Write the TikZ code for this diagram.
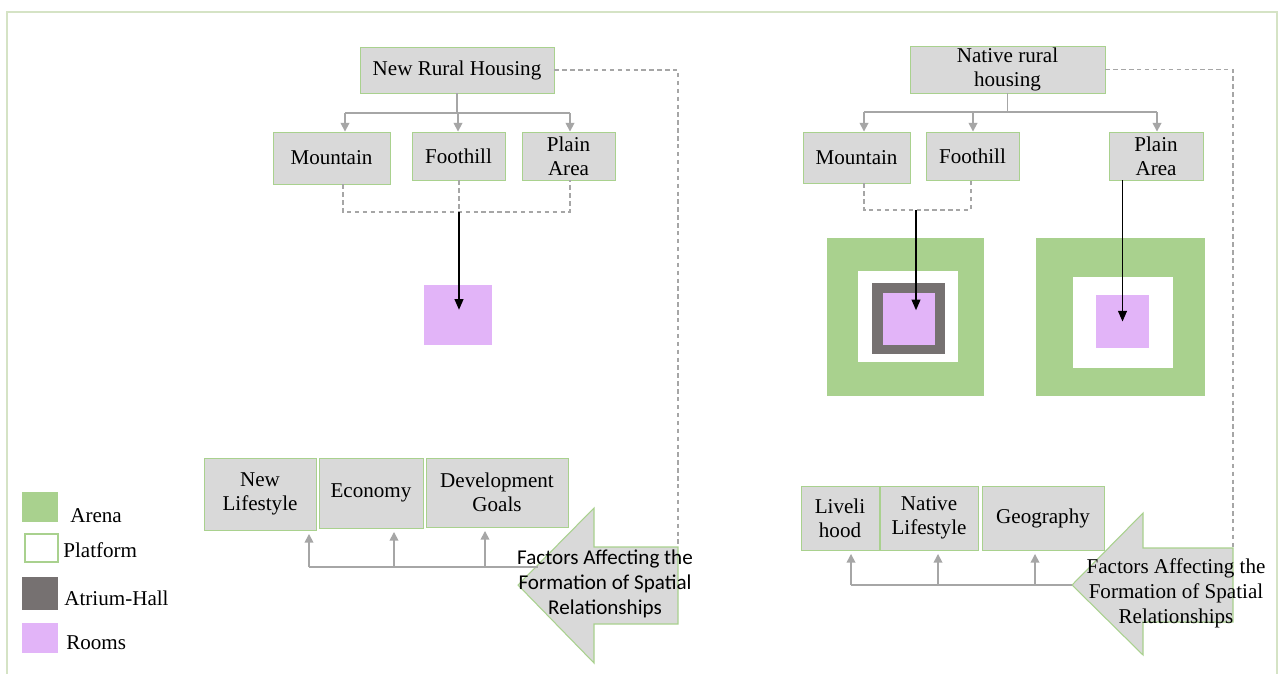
\documentclass[tikz,border=0pt]{standalone}
\usepackage{fontspec}
\setmainfont{Liberation Serif}
\newfontfamily\calib{Carlito}
\usetikzlibrary{arrows.meta}
\newdimen\pxu \pxu=0.02cm
\definecolor{boxfill}{HTML}{D9D9D9}
\definecolor{boxline}{HTML}{A9D18E}
\definecolor{arena}{HTML}{A9D18E}
\definecolor{rooms}{HTML}{E2B4F8}
\definecolor{atrium}{HTML}{767171}
\definecolor{connc}{HTML}{A6A6A6}
\definecolor{framec}{HTML}{D5E3C5}
\begin{document}
\begin{tikzpicture}[x=0.02cm,y=-0.02cm,
  sz/.style 2 args={minimum width=#1\pxu, minimum height=#2\pxu},
  txt/.style={font=\fontsize{12}{13.6}\selectfont, align=center, inner sep=0pt},
  box/.style={txt, draw=boxline, fill=boxfill, line width=0.5pt},
  sq/.style={inner sep=0pt, fill=#1, draw=none},
  gline/.style={draw=connc, line width=0.9pt},
  garrow/.style={gline, -{Triangle[width=5pt,length=5pt]}},
  dline/.style={draw=connc, line width=0.6pt, dash pattern=on 2.5pt off 2pt},
  barrow/.style={draw=black, line width=0.8pt, -{Triangle[width=5pt,length=6pt]}},
  bigarrow/.style={fill=boxfill, draw=boxline, line width=0.6pt},
  lab/.style={txt, anchor=west}
]
\useasboundingbox (0,0) rectangle (1280,673);
\fill[white] (0,0) rectangle (1280,673);
\draw[framec, line width=1pt] (7,700) -- (7,12) -- (1277,12) -- (1277,700);

% ---------- left part ----------
\node[box, sz={194}{46}] (nrh) at (457,70) {New Rural Housing};
\node[box, sz={117}{52}] (mtl) at (331.5,158) {Mountain};
\node[box, sz={93}{48}] (ftl) at (458.5,156) {Foothill};
\node[box, sz={93}{48}] (pal) at (568.5,156) {Plain\\Area};
\node[sq=rooms, sz={68}{60}] (pinkL) at (458,315) {};

\coordinate (tl1) at (345,113);
\coordinate (tl2) at (458,113);
\coordinate (tl3) at (570,113);
\draw[gline] (nrh.south) -- (nrh.south |- tl1);
\draw[gline] (tl1) -- (tl3);
\draw[garrow] (tl1) -- (tl1 |- mtl.north);
\draw[garrow] (tl2) -- (tl2 |- ftl.north);
\draw[garrow] (tl3) -- (tl3 |- pal.north);

\coordinate (dl1) at (343,212);
\coordinate (dl2) at (459,212);
\coordinate (dl3) at (570,212);
\draw[dline] (dl1 |- mtl.south) -- (dl1) -- (dl3) -- (dl3 |- pal.south);
\draw[dline] (dl2 |- ftl.south) -- (dl2);
\draw[barrow] (dl2) -- ([yshift=3pt]pinkL.center -| dl2);

\node[box, sz={112}{72}] (nlf) at (260,494) {New\\Lifestyle};
\node[box, sz={104}{70}] (eco) at (371,493) {Economy};
\node[box, sz={142}{69}] (dev) at (497,492.5) {Development\\Goals};

\coordinate (fL) at (678,547);
\filldraw[bigarrow] (fL) -- (594,547) -- (594,508) -- (518,585) -- (594,663) -- (594,624) -- (678,624) -- cycle;
\draw[dline] (nrh.east) -- (nrh.east -| fL) -- (fL);

\coordinate (bl0) at (538,567);
\coordinate (bl1) at (309,567);
\coordinate (bl2) at (394,567);
\coordinate (bl3) at (485,567);
\draw[gline] (bl1) -- (bl0);
\draw[garrow] (bl1) -- ([yshift=-2pt]bl1 |- nlf.south);
\draw[garrow] (bl2) -- ([yshift=-2pt]bl2 |- eco.south);
\draw[garrow] (bl3) -- ([yshift=-2pt]bl3 |- dev.south);
\node[txt, font=\calib\fontsize{12}{14.2}\selectfont] (factL) at (605,584) {Factors Affecting the\\Formation of Spatial\\Relationships};

% ---------- right part ----------
\node[box, sz={195}{47}] (nrr) at (1007.5,69.5) {Native rural\\housing};
\node[box, sz={107}{51}] (mtr) at (856.5,157.5) {Mountain};
\node[box, sz={93}{48}] (ftr) at (972.5,156) {Foothill};
\node[box, sz={94}{48}] (par) at (1156,156) {Plain\\Area};

\node[sq=arena, sz={157}{158}] (gL1) at (905.5,317) {};
\node[sq=white, sz={100}{91}] (wL1) at (908,316.5) {};
\node[sq=atrium, sz={73}{71}] (aL1) at (908.5,318.5) {};
\node[sq=rooms, sz={52}{52}] (pL1) at (909,319) {};
\node[sq=arena, sz={169}{158}] (gR) at (1120.5,317) {};
\node[sq=white, sz={100}{91}] (wR) at (1123,322.5) {};
\node[sq=rooms, sz={53}{53}] (pR) at (1122.5,321.5) {};

\coordinate (tr1) at (864,112);
\coordinate (tr2) at (973,112);
\coordinate (tr3) at (1157,112);
\draw[gline] (nrr.south) -- (nrr.south |- tr1);
\draw[gline] (tr1) -- (tr3);
\draw[garrow] (tr1) -- (tr1 |- mtr.north);
\draw[garrow] (tr2) -- (tr2 |- ftr.north);
\draw[garrow] (tr3) -- (tr3 |- par.north);

\coordinate (dr1) at (864,210);
\coordinate (dr2) at (916,210);
\coordinate (dr3) at (971,210);
\draw[dline] (dr1 |- mtr.south) -- (dr1) -- (dr3) -- (dr3 |- ftr.south);
\draw[barrow] (dr2) -- ([yshift=5pt]pL1.center -| dr2);
\draw[barrow] (pR |- par.south) -- (pR.center);

\node[box, sz={78}{64}] (liv) at (840,518) {Liveli\\hood};
\node[box, sz={98}{64}] (nls) at (929,518) {Native\\Lifestyle};
\node[box, sz={122}{64}] (geo) at (1043,518) {Geography};

\coordinate (fR) at (1233,548);
\coordinate (br0) at (1072,585);
\filldraw[bigarrow] (fR) -- (1143,548) -- (1143,513) -- (br0) -- (1143,655) -- (1143,622) -- (1233,622) -- cycle;
\draw[dline] (nrr.east) -- (nrr.east -| fR) -- (fR);

\coordinate (br1) at (851,585);
\coordinate (br2) at (938,585);
\coordinate (br3) at (1035,585);
\draw[gline] (br1) -- (br0);
\draw[garrow] (br1) -- ([yshift=-2pt]br1 |- liv.south);
\draw[garrow] (br2) -- ([yshift=-2pt]br2 |- nls.south);
\draw[garrow] (br3) -- ([yshift=-2pt]br3 |- geo.south);
\node[txt, font=\fontsize{12}{14.2}\selectfont] (factR) at (1176,593) {Factors Affecting the\\Formation of Spatial\\Relationships};

% ---------- legend ----------
\node[sq=arena, sz={36}{30}] (lgA) at (40,507) {};
\node[inner sep=0pt, fill=white, draw=boxline, line width=0.6pt, sz={33}{28}] (lgP) at (41.5,548) {};
\node[sq=atrium, sz={36}{33}] (lgH) at (40,593.5) {};
\node[sq=rooms, sz={36}{30}] (lgR) at (40,638) {};
\node[lab] (lgAt) at (70,516) {Arena};
\node[lab] (lgPt) at (63,550) {Platform};
\node[lab] (lgHt) at (64,598) {Atrium-Hall};
\node[lab] (lgRt) at (66,643) {Rooms};
\end{tikzpicture}
\end{document}
